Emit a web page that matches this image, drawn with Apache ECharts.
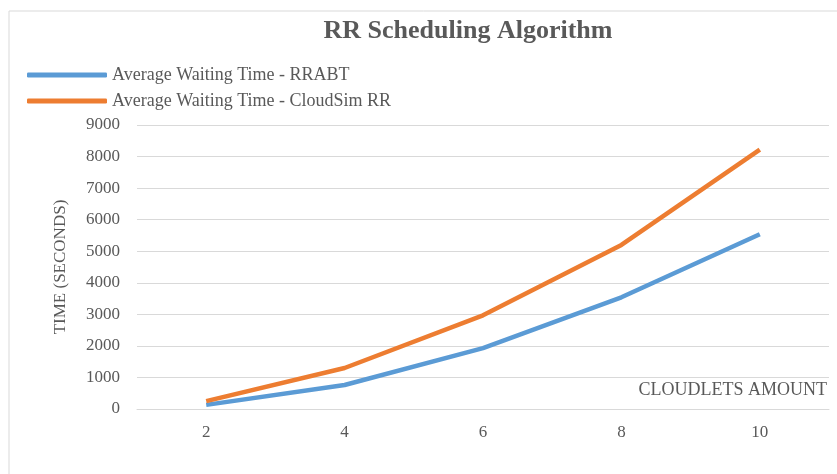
<!DOCTYPE html>
<html>
<head>
<meta charset="utf-8">
<script src="https://cdn.jsdelivr.net/npm/echarts@6/dist/echarts.min.js"></script>
<style>
  html, body { margin: 0; padding: 0; background: #fff; }
  #chart { width: 837px; height: 474px; }
</style>
</head>
<body>
<div id="chart"></div>
<script>
// cloudlets amount (x categories)
var categories = ["2", "4", "6", "8", "10"];
// average waiting time, seconds
var rrabt = [130, 760, 1930, 3540, 5540];
var cloudsimRR = [250, 1300, 2970, 5200, 8220];
var seriesNames = ["Average Waiting Time - RRABT", "Average Waiting Time - CloudSim RR"];

var serif = "Liberation Serif";
var grey = "#595959";

var myChart = echarts.init(document.getElementById("chart"));
var option = {
  animation: false,
  backgroundColor: "#fff",
  title: {
    text: "RR Scheduling Algorithm",
    left: 463,
    top: 13,
    textAlign: "center",
    textStyle: { fontFamily: serif, fontSize: 26, fontWeight: "bold", color: grey }
  },
  graphic: [
    {
      type: "rect",
      shape: { x: 9, y: 11, width: 900, height: 500 },
      style: { fill: "none", stroke: "#d9d9d9", lineWidth: 1 }
    }
  ],
  legend: {
    orient: "vertical",
    left: 22,
    top: 61,
    itemWidth: 80,
    itemHeight: 5,
    itemGap: 8,
    icon: "roundRect",
    data: seriesNames,
    textStyle: { fontFamily: serif, fontSize: 18, color: grey }
  },
  grid: { left: 137, right: 8, top: 125, height: 284 },
  xAxis: {
    type: "category",
    data: categories,
    boundaryGap: true,
    name: "CLOUDLETS AMOUNT",
    nameLocation: "end",
    nameGap: -2,
    nameTextStyle: {
      fontFamily: serif, fontSize: 18, color: grey,
      align: "right", verticalAlign: "bottom", padding: [0, 0, 10, 0]
    },
    axisLine: { lineStyle: { color: "#d9d9d9", width: 1 } },
    axisTick: { show: false },
    axisLabel: { fontFamily: serif, fontSize: 17, color: grey, margin: 15 }
  },
  yAxis: {
    type: "value",
    min: 0,
    max: 9000,
    interval: 1000,
    name: "TIME (SECONDS)",
    nameLocation: "middle",
    nameGap: 68,
    nameTextStyle: { fontFamily: serif, fontSize: 17, color: grey },
    axisLine: { show: false },
    axisTick: { show: false },
    axisLabel: {
      fontFamily: serif, fontSize: 17, color: grey, margin: 17,
      formatter: function (v) { return String(v); }
    },
    splitLine: { lineStyle: { color: "#d9d9d9", width: 1 } }
  },
  series: [
    {
      name: seriesNames[0],
      type: "line",
      data: rrabt,
      showSymbol: false,
      symbol: "none",
      lineStyle: { color: "#5B9BD5", width: 4.5 },
      itemStyle: { color: "#5B9BD5" }
    },
    {
      name: seriesNames[1],
      type: "line",
      data: cloudsimRR,
      showSymbol: false,
      symbol: "none",
      lineStyle: { color: "#ED7D31", width: 4.5 },
      itemStyle: { color: "#ED7D31" }
    }
  ]
};
myChart.setOption(option);
</script>
</body>
</html>
